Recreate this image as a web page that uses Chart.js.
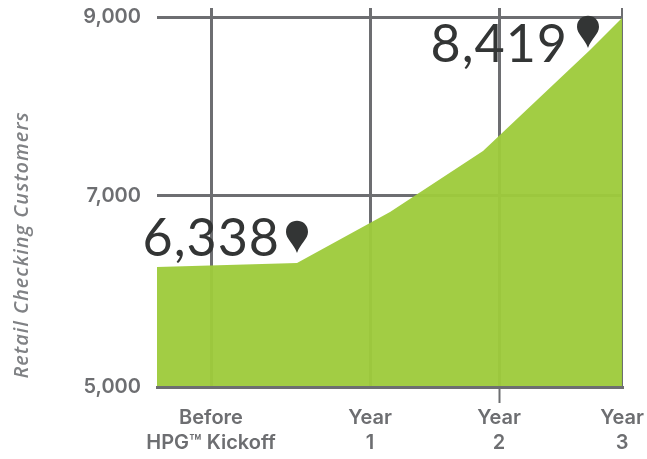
<!DOCTYPE html>
<html>
<head>
<meta charset="utf-8">
<script src="https://cdn.jsdelivr.net/npm/chart.js@4"></script>
<style>
    html, body { margin: 0; padding: 0; background: #fff; }
    canvas { display: block; }
</style>
</head>
<body>
<canvas id="chart1" width="647" height="459"></canvas>
<script>
// x runs along an uneven timeline, so the axis is numeric and the ticks sit where the picture has them
const xTickValues = [54, 213, 342, 465];
const xTickLabels = [['Before', 'HPG™ Kickoff'], ['Year', '1'], ['Year', '2'], ['Year', '3']];
const yTickValues = [5000, 7000, 9000];

const customerX = [0, 140, 233, 326, 433, 465];
const customers = [6257, 6298, 6832, 7503, 8631, 8990];

const calloutLabels = ['6,338', '8,419'];
const calloutX = [140, 431];
const calloutY = [6403, 8654];

const gridColor = '#6d6e71';
const textColor = '#6d6e71';
const darkColor = '#333535';
const areaColor = 'rgba(158, 203, 60, 0.96)';

// the printed y axis is not quite even: 7,000 sits above the middle
const yStops = [5000, 7000, 9000, 9100];
const yStopShare = [0, 0.504, 0.976, 1];

class UnevenScale extends Chart.LinearScale {
    getPixelForValue(value) {
        let i = 0;
        while (i < yStops.length - 2 && value > yStops[i + 1]) i++;
        const t = (value - yStops[i]) / (yStops[i + 1] - yStops[i]);
        const share = yStopShare[i] + t * (yStopShare[i + 1] - yStopShare[i]);
        return this.bottom - share * (this.bottom - this.top);
    }
}
UnevenScale.id = 'uneven';
UnevenScale.defaults = Chart.LinearScale.defaults;
Chart.register(UnevenScale);

const calloutPlugin = {
    id: 'callouts',
    afterDatasetsDraw(chart) {
        const ctx = chart.ctx;
        const offsets = [{ x: -17, y: 3 }, { x: -20, y: 14 }];
        calloutLabels.forEach((label, i) => {
            const tipX = chart.scales.x.getPixelForValue(calloutX[i]);
            const tipY = chart.scales.y.getPixelForValue(calloutY[i]);

            ctx.save();
            ctx.fillStyle = darkColor;
            ctx.beginPath();
            ctx.moveTo(tipX, tipY);
            ctx.bezierCurveTo(tipX - 3, tipY - 9, tipX - 11, tipY - 14, tipX - 11, tipY - 21);
            ctx.bezierCurveTo(tipX - 11, tipY - 36, tipX + 11, tipY - 36, tipX + 11, tipY - 21);
            ctx.bezierCurveTo(tipX + 11, tipY - 14, tipX + 3, tipY - 9, tipX, tipY);
            ctx.fill();

            ctx.font = '400 52px Lato';
            ctx.letterSpacing = '1px';
            ctx.textAlign = 'right';
            ctx.textBaseline = 'alphabetic';
            ctx.fillText(label, tipX + offsets[i].x, tipY + offsets[i].y);
            ctx.restore();
        });

        ctx.save();
        ctx.translate(22, 245);
        ctx.rotate(-Math.PI / 2);
        ctx.font = 'italic 600 20px "Open Sans"';
        ctx.letterSpacing = '1px';
        ctx.fillStyle = '#808285';
        ctx.textAlign = 'center';
        ctx.textBaseline = 'middle';
        ctx.fillText('Retail Checking Customers', 0, 0);
        ctx.restore();
    }
};

const ctx = document.getElementById('chart1').getContext('2d');
new Chart(ctx, {
    type: 'line',
    data: {
        datasets: [{
            label: 'Retail Checking Customers',
            data: customerX.map((x, i) => ({ x: x, y: customers[i] })),
            backgroundColor: areaColor,
            borderWidth: 0,
            pointRadius: 0,
            tension: 0,
            fill: 'origin'
        }]
    },
    plugins: [calloutPlugin],
    options: {
        responsive: false,
        animation: false,
        layout: { padding: { top: 8, right: 25, left: 0, bottom: 0 } },
        plugins: {
            legend: { display: false },
            tooltip: { enabled: false }
        },
        scales: {
            x: {
                type: 'linear',
                min: 0,
                max: 465,
                afterBuildTicks: axis => { axis.ticks = xTickValues.map(v => ({ value: v })); },
                afterFit: axis => { axis.height = 72; },
                grid: {
                    color: gridColor,
                    lineWidth: c => (c.index === 3 ? 2 : 3),
                    drawTicks: true,
                    tickLength: 16,
                    tickWidth: 2,
                    tickColor: c => (c.index === 2 ? gridColor : 'rgba(0,0,0,0)')
                },
                border: { display: true, color: gridColor, width: 3, z: 1 },
                ticks: {
                    autoSkip: false,
                    maxRotation: 0,
                    padding: 2,
                    color: textColor,
                    font: { family: 'Inter', size: 20, weight: '600', lineHeight: 1.25 },
                    callback: (value, index) => xTickLabels[index]
                }
            },
            y: {
                type: 'uneven',
                min: 5000,
                max: 9100,
                afterBuildTicks: axis => { axis.ticks = yTickValues.map(v => ({ value: v })); },
                afterFit: axis => {
                    axis.width = 157;
                    axis.paddingTop = 0;
                    axis.paddingBottom = 0;
                },
                grid: { color: gridColor, lineWidth: 3, drawTicks: false },
                border: { display: false },
                ticks: {
                    padding: 16,
                    color: textColor,
                    font: { family: 'Inter', size: 20, weight: '600' },
                    callback: value => value.toLocaleString('en-US')
                }
            }
        }
    }
});
</script>
</body>
</html>
